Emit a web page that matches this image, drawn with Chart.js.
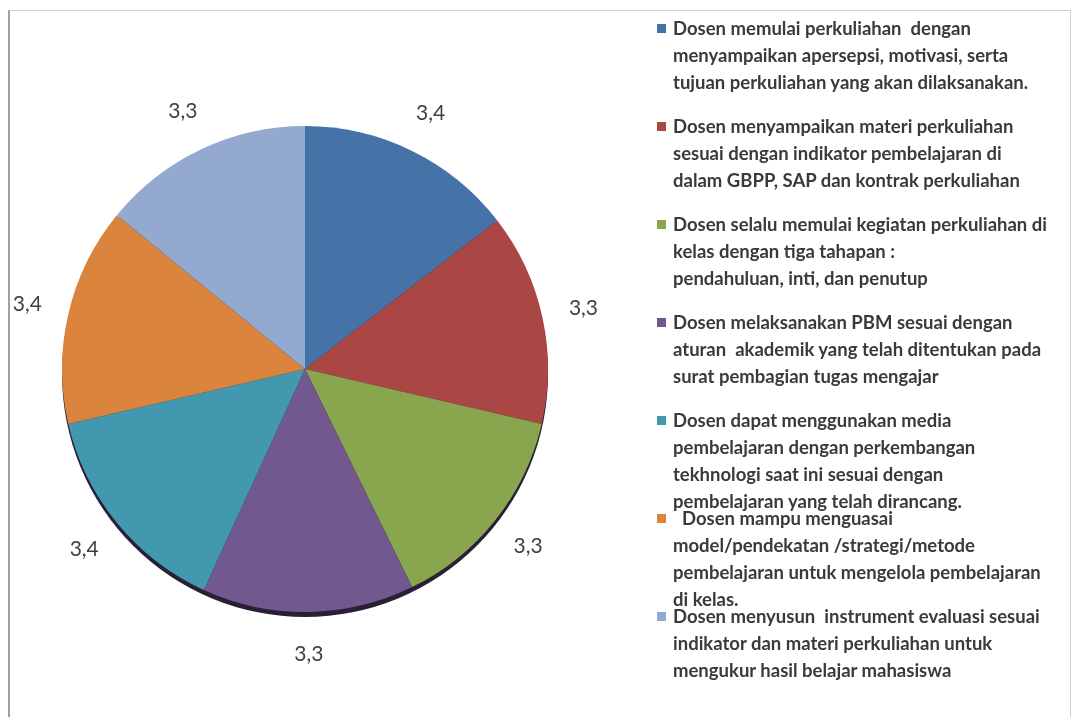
<!DOCTYPE html>
<html>
<head>
<meta charset="utf-8">
<script src="https://cdn.jsdelivr.net/npm/chart.js@4"></script>
<style>
  html, body { margin:0; padding:0; background:#fff; }
  #wrap { position:relative; width:1075px; height:717px; overflow:hidden; }
  #frame { position:absolute; left:8px; top:10px; width:1060px; height:720px;
           border-left:2px solid #a0a0a0; border-top:1px solid #d0d0d0; border-right:1px solid #d0d0d0; }
  #pie { position:absolute; left:0; top:0; }
  #legend { position:absolute; left:0; top:0; font-family:Lato, "Open Sans", sans-serif;
            font-weight:700; font-size:18.5px; color:#3a3a3a; }
  .item { position:absolute; left:657px; white-space:pre; line-height:27px; }
  .box { position:absolute; left:0; top:9px; width:9px; height:9px; }
  .txt { position:absolute; left:16px; top:0; }
</style>
</head>
<body>
<div id="wrap">
  <div id="frame"></div>
  <canvas id="pie" width="1075" height="717"></canvas>
  <div id="legend"></div>
</div>
<script>
// Data
const kategori = [
  ['Dosen memulai perkuliahan  dengan', 'menyampaikan apersepsi, motivasi, serta', 'tujuan perkuliahan yang akan dilaksanakan.'],
  ['Dosen menyampaikan materi perkuliahan', 'sesuai dengan indikator pembelajaran di', 'dalam GBPP, SAP dan kontrak perkuliahan'],
  ['Dosen selalu memulai kegiatan perkuliahan di', 'kelas dengan tiga tahapan :', 'pendahuluan, inti, dan penutup'],
  ['Dosen melaksanakan PBM sesuai dengan', 'aturan  akademik yang telah ditentukan pada', 'surat pembagian tugas mengajar'],
  ['Dosen dapat menggunakan media', 'pembelajaran dengan perkembangan', 'tekhnologi saat ini sesuai dengan', 'pembelajaran yang telah dirancang.'],
  ['  Dosen mampu menguasai', 'model/pendekatan /strategi/metode', 'pembelajaran untuk mengelola pembelajaran', 'di kelas.'],
  ['Dosen menyusun  instrument evaluasi sesuai', 'indikator dan materi perkuliahan untuk', 'mengukur hasil belajar mahasiswa']
];
const nilai = [3.4, 3.3, 3.3, 3.3, 3.4, 3.4, 3.3];
const warna = ['#4572A7', '#AA4643', '#89A54E', '#71588F', '#4198AF', '#DB843D', '#93A9CF'];

// Tepi gelap bawah (efek 3D)
const tepiBawah = {
  id: 'tepiBawah',
  beforeDatasetsDraw(chart) {
    const arc = chart.getDatasetMeta(0).data[0];
    if (!arc) return;
    const p = arc.getProps(['x', 'y', 'outerRadius'], true);
    const ctx = chart.ctx;
    ctx.save();
    ctx.fillStyle = '#2a2036';
    ctx.beginPath();
    ctx.arc(p.x, p.y + 5, p.outerRadius, 0, Math.PI * 2);
    ctx.fill();
    ctx.restore();
  }
};

// Label nilai di luar pie
const labelLuar = {
  id: 'labelLuar',
  afterDatasetsDraw(chart) {
    const ctx = chart.ctx;
    const meta = chart.getDatasetMeta(0);
    ctx.save();
    ctx.font = '21px Lato, "Open Sans", sans-serif';
    ctx.fillStyle = '#404040';
    ctx.textAlign = 'center';
    ctx.textBaseline = 'middle';
    meta.data.forEach((arc, i) => {
      const p = arc.getProps(['x', 'y', 'startAngle', 'endAngle', 'outerRadius'], true);
      const a = (p.startAngle + p.endAngle) / 2;
      const r = p.outerRadius + 42;
      const txt = nilai[i].toFixed(1).replace('.', ',');
      ctx.fillText(txt, p.x + Math.cos(a) * r, p.y + Math.sin(a) * r);
    });
    ctx.restore();
  }
};

new Chart(document.getElementById('pie'), {
  type: 'pie',
  data: {
    labels: kategori,
    datasets: [{ data: nilai, backgroundColor: warna, borderWidth: 0 }]
  },
  options: {
    responsive: false,
    animation: false,
    layout: { padding: { left: 61, right: 526, top: 126, bottom: 105 } },
    plugins: { legend: { display: false }, tooltip: { enabled: false } }
  },
  plugins: [tepiBawah, labelLuar]
});

// Legenda HTML
const leg = document.getElementById('legend');
kategori.forEach((lines, i) => {
  const it = document.createElement('div');
  it.className = 'item';
  it.style.top = (15 + i * 98) + 'px';
  it.innerHTML = `<div class="box" style="background:${warna[i]}"></div><div class="txt">${lines.join('\n')}</div>`;
  leg.appendChild(it);
});
</script>
</body>
</html>
